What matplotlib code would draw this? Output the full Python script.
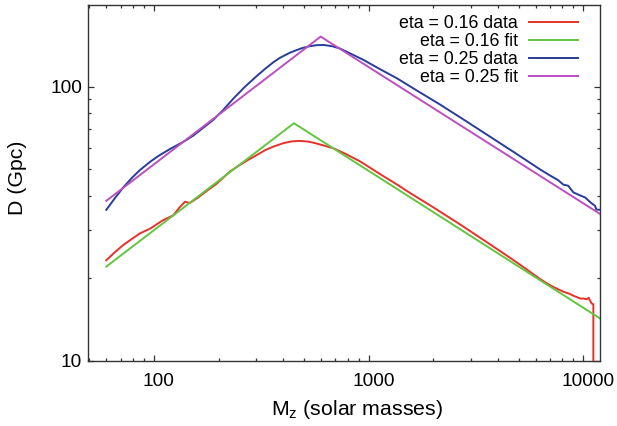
import numpy as np
import matplotlib
matplotlib.use("Agg")
import matplotlib.pyplot as plt
from matplotlib import ticker
from matplotlib.transforms import ScaledTranslation

plt.rcParams['font.family'] = ['Liberation Sans', 'DejaVu Sans']
plt.rcParams['mathtext.fontset'] = 'custom'
plt.rcParams['mathtext.rm'] = 'Liberation Sans'

# eta = 0.16 data (red)
m_016 = [60, 66, 72, 79, 86, 96, 110, 123, 132, 139.5, 147, 160, 176, 195, 226,
         252, 275, 301, 330, 359, 400, 440, 480, 520, 552, 610, 685, 780, 912,
         1120, 1352, 1560, 1932, 2667, 3500, 4560, 5400, 6291, 7000, 7600,
         8074, 8600, 9000, 9331, 9700, 10000, 10380, 10600, 10800, 10955,
         11140, 11150]
d_016 = [23.3, 25.0, 26.5, 27.9, 29.2, 30.4, 32.6, 34.0, 36.4, 38.1, 37.7,
         39.4, 41.7, 44.2, 49.1, 52.0, 54.2, 56.4, 58.8, 60.5, 62.3, 63.3,
         63.5, 63.2, 62.6, 61.3, 59.7, 57.0, 53.5, 48.3, 44.1, 41.0, 37.0,
         31.5, 27.35, 23.8, 21.7, 19.9, 18.9, 18.3, 17.9, 17.6, 17.3, 17.1,
         16.9, 16.9, 16.8, 17.0, 16.5, 16.2, 16.1, 0.1]

# eta = 0.16 fit (green)
m_016_fit = [60, 449, 11960]
d_016_fit = [22.1, 73.7, 14.3]

# eta = 0.25 data (blue)
m_025 = [60, 66, 72, 79, 86, 96, 105, 119, 137, 152, 170, 189, 210, 234, 265,
         301, 330, 359, 386, 430, 462, 490, 530, 573, 620, 680, 736, 820, 944,
         1120, 1352, 1700, 2153, 2800, 3681, 4800, 6291, 7000, 7600, 8074,
         8500, 9000, 9660, 10200, 10800, 11350, 11500, 11960]
d_025 = [35.6, 39.4, 43.0, 46.6, 49.7, 53.3, 56.0, 59.4, 63.0, 66.3, 71.0,
         75.8, 82.3, 90.5, 100.0, 109.5, 116.5, 122.8, 127.6, 133.3, 136.2,
         138.5, 140.7, 142.0, 142.2, 140.6, 138.0, 132.5, 125.6, 116.5, 107.6,
         96.4, 86.2, 75.6, 65.8, 57.5, 50.0, 47.5, 45.8, 44.0, 43.6, 41.2,
         40.2, 39.5, 37.9, 36.8, 35.7, 35.6]

# eta = 0.25 fit (magenta)
m_025_fit = [60, 598, 11960]
d_025_fit = [38.4, 152.6, 34.4]

fig = plt.figure(figsize=(6.17, 4.26), dpi=100)
ax = fig.add_axes([0.1426, 0.1526, 0.8298, 0.8357])

lw = 1.4
ax.plot(m_016, d_016, color='#e8312a', lw=lw, label='eta = 0.16 data')
ax.plot(m_016_fit, d_016_fit, color='#62c53f', lw=lw, label='eta = 0.16 fit')
ax.plot(m_025, d_025, color='#283c9a', lw=lw, label='eta = 0.25 data')
ax.plot(m_025_fit, d_025_fit, color='#bb4fc0', lw=lw, label='eta = 0.25 fit')

ax.set_xscale('log')
ax.set_yscale('log')
ax.set_xlim(49.3, 11960)
ax.set_ylim(10, 199)

ax.xaxis.set_major_locator(ticker.FixedLocator([100, 1000, 10000]))
ax.yaxis.set_major_locator(ticker.FixedLocator([10, 100]))
ax.xaxis.set_minor_locator(ticker.LogLocator(base=10, subs=np.arange(2, 10)))
ax.yaxis.set_minor_locator(ticker.LogLocator(base=10, subs=np.arange(2, 10)))
fmt = ticker.FuncFormatter(lambda v, p: '%d' % v)
ax.xaxis.set_major_formatter(fmt)
ax.yaxis.set_major_formatter(fmt)
ax.xaxis.set_minor_formatter(ticker.NullFormatter())
ax.yaxis.set_minor_formatter(ticker.NullFormatter())

ax.tick_params(which='both', direction='in', top=True, right=True,
               color='#333333', width=0.9)
ax.tick_params(which='major', length=4.5, labelsize=13.7)
ax.tick_params(which='minor', length=2.3)
ax.tick_params(axis='x', pad=9)
ax.tick_params(axis='y', pad=4.3)
for s in ax.spines.values():
    s.set_color('#333333')
    s.set_linewidth(1.0)

ax.set_xlabel(r'M$_\mathregular{z}$ (solar masses)', fontsize=15.3, labelpad=5.7)
ax.set_ylabel('D (Gpc)', fontsize=15.3, labelpad=17)
ax.xaxis.label.set_x(0.5 + 13 / 512)
ax.yaxis.label.set_y(0.5 + 5 / 356)

# tick labels in the reference sit a little right of their ticks
for lab in ax.get_xticklabels():
    lab.set_transform(lab.get_transform() + ScaledTranslation(5 / 100, 0, fig.dpi_scale_trans))

ax.legend(loc='upper right', bbox_to_anchor=(0.957, 0.9725), frameon=False,
          markerfirst=False, fontsize=12.8, handlelength=2.75,
          handletextpad=0.65, labelspacing=0.06, borderpad=0, borderaxespad=0)

fig.savefig('out.png', dpi=100)
